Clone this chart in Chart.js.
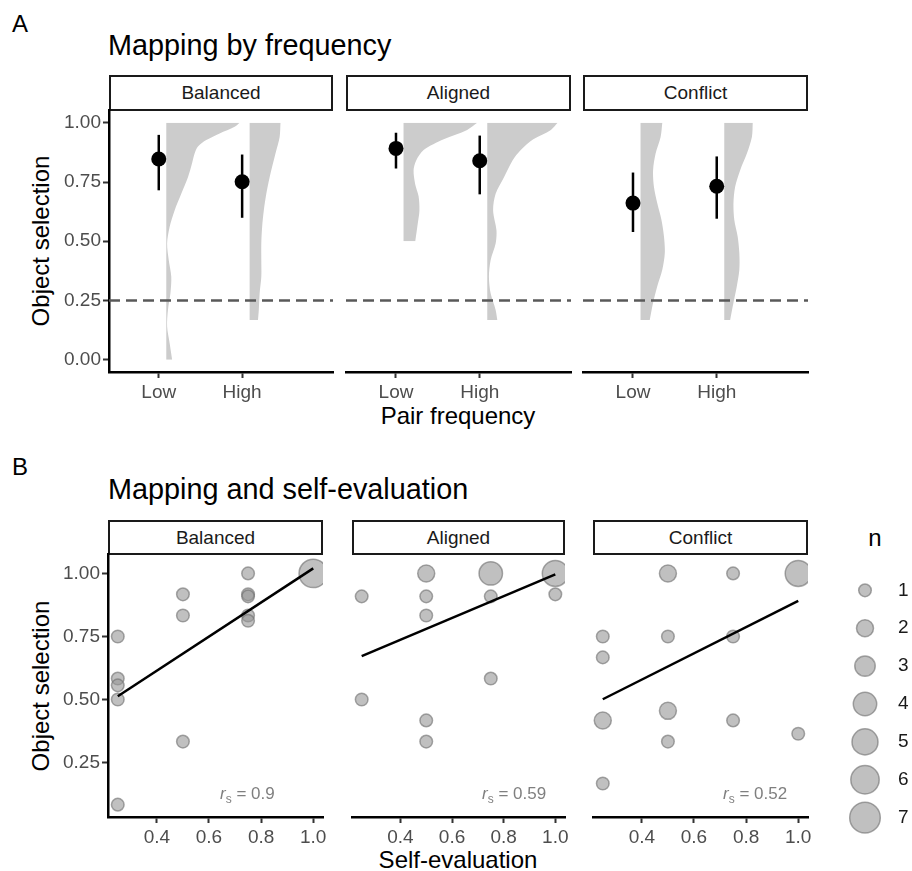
<!DOCTYPE html>
<html>
<head>
<meta charset="utf-8">
<script src="https://cdn.jsdelivr.net/npm/chart.js@4.4.1/dist/chart.umd.min.js"></script>
<style>
body{margin:0;background:#fff;width:912px;height:871px;position:relative;overflow:hidden;font-family:"Liberation Sans",Arial,Helvetica,sans-serif;}
canvas{position:absolute;}
.t{position:absolute;white-space:nowrap;color:#000;line-height:1;}
.strip{position:absolute;box-sizing:border-box;border:2px solid #1a1a1a;text-align:center;font-size:19px;color:#1a1a1a;background:#fff;}
.rs{font-size:17px;color:#7f7f7f;}
.rs sub{font-size:12px;vertical-align:-4px;line-height:0;}
</style>
</head>
<body>
<div class="t" style="left:12px;top:12px;font-size:24px;">A</div>
<div class="t" style="left:108px;top:31px;font-size:28.8px;">Mapping by frequency</div>
<div class="t" style="left:12px;top:455px;font-size:24px;">B</div>
<div class="t" style="left:108px;top:475px;font-size:28.8px;">Mapping and self-evaluation</div>

<div class="t" style="left:41px;top:241px;font-size:24px;transform:translate(-50%,-50%) rotate(-90deg);">Object selection</div>
<div class="t" style="left:41px;top:686px;font-size:24px;transform:translate(-50%,-50%) rotate(-90deg);">Object selection</div>
<div class="t" style="left:458px;top:404px;font-size:24px;transform:translateX(-50%);">Pair frequency</div>
<div class="t" style="left:458px;top:848px;font-size:24px;transform:translateX(-50%);">Self-evaluation</div>
<div class="t" style="left:875px;top:526px;font-size:24px;transform:translateX(-50%);">n</div>

<script>
// panel A: mapping by frequency
const conditions = ['Balanced', 'Aligned', 'Conflict'];
const freqLabels = ['Low', 'High'];
const chance = 0.25;

const balancedMean = [0.847, 0.751];
const balancedLo = [0.715, 0.599];
const balancedHi = [0.949, 0.866];
const alignedMean = [0.892, 0.840];
const alignedLo = [0.807, 0.698];
const alignedHi = [0.958, 0.946];
const conflictMean = [0.661, 0.732];
const conflictLo = [0.539, 0.595];
const conflictHi = [0.790, 0.858];

// half-violin densities (y level, width in axis units)
const balLowY = [1.0, 0.983, 0.955, 0.927, 0.9, 0.87, 0.83, 0.77, 0.70, 0.63, 0.56, 0.49, 0.42, 0.35, 0.28, 0.21, 0.14, 0.07, 0.0];
const balLowW = [0.88, 0.82, 0.64, 0.48, 0.38, 0.34, 0.31, 0.26, 0.18, 0.10, 0.04, 0.01, 0.03, 0.06, 0.05, 0.02, 0.01, 0.04, 0.07];
const balHighY = [1.0, 0.94, 0.87, 0.77, 0.70, 0.63, 0.56, 0.49, 0.42, 0.35, 0.28, 0.21, 0.167];
const balHighW = [0.37, 0.36, 0.31, 0.24, 0.20, 0.17, 0.15, 0.14, 0.14, 0.14, 0.12, 0.11, 0.10];
const aliLowY = [1.0, 0.97, 0.93, 0.885, 0.84, 0.80, 0.74, 0.69, 0.63, 0.575, 0.5];
const aliLowW = [0.88, 0.76, 0.48, 0.24, 0.15, 0.12, 0.14, 0.18, 0.19, 0.17, 0.14];
const aliHighY = [1.0, 0.97, 0.93, 0.885, 0.84, 0.77, 0.70, 0.63, 0.546, 0.49, 0.42, 0.35, 0.28, 0.21, 0.167];
const aliHighW = [0.84, 0.76, 0.55, 0.40, 0.30, 0.20, 0.10, 0.07, 0.11, 0.10, 0.04, 0.02, 0.04, 0.10, 0.12];
const conLowY = [1.0, 0.94, 0.87, 0.80, 0.73, 0.66, 0.59, 0.52, 0.45, 0.38, 0.31, 0.24, 0.167];
const conLowW = [0.26, 0.24, 0.18, 0.15, 0.16, 0.20, 0.25, 0.28, 0.29, 0.26, 0.20, 0.15, 0.11];
const conHighY = [1.0, 0.94, 0.87, 0.80, 0.73, 0.66, 0.59, 0.52, 0.45, 0.38, 0.31, 0.24, 0.167];
const conHighW = [0.34, 0.33, 0.27, 0.19, 0.13, 0.11, 0.12, 0.16, 0.18, 0.18, 0.15, 0.11, 0.07];

const yTicksA = [0, 0.25, 0.5, 0.75, 1.0];

// panel B: mapping and self-evaluation
const balX = [0.25, 0.25, 0.25, 0.25, 0.25, 0.5, 0.5, 0.5, 0.75, 0.75, 0.75, 0.75, 0.75, 1.0];
const balY = [0.75, 0.583, 0.556, 0.5, 0.083, 0.917, 0.833, 0.333, 1.0, 0.917, 0.909, 0.833, 0.812, 1.0];
const balN = [1, 1, 1, 1, 1, 1, 1, 1, 1, 1, 1, 1, 1, 6];
const aliX = [0.25, 0.25, 0.5, 0.5, 0.5, 0.5, 0.5, 0.75, 0.75, 0.75, 1.0, 1.0];
const aliY = [0.909, 0.5, 1.0, 0.909, 0.833, 0.417, 0.333, 1.0, 0.909, 0.583, 1.0, 0.917];
const aliN = [1, 1, 2, 1, 1, 1, 1, 4, 1, 1, 5, 1];
const conX = [0.25, 0.25, 0.25, 0.25, 0.5, 0.5, 0.5, 0.5, 0.75, 0.75, 0.75, 1.0, 1.0];
const conY = [0.75, 0.667, 0.417, 0.167, 1.0, 0.75, 0.455, 0.333, 1.0, 0.75, 0.417, 1.0, 0.364];
const conN = [1, 1, 2, 1, 2, 1, 2, 1, 1, 1, 1, 5, 1];

// fitted lines (intercept, slope) and spearman labels
const fitIntercept = [0.344, 0.564, 0.371];
const fitSlope = [0.676, 0.432, 0.520];
const rsValues = ['0.9', '0.59', '0.52'];

const xTicksB = [0.4, 0.6, 0.8, 1.0];
const yTicksB = [0.25, 0.5, 0.75, 1.0];
const nLevels = [1, 2, 3, 4, 5, 6, 7];

Chart.defaults.font.family = '"Liberation Sans", Arial, Helvetica, sans-serif';
Chart.defaults.font.size = 19;
Chart.defaults.color = '#4d4d4d';
Chart.defaults.animation = false;
Chart.defaults.plugins.legend.display = false;
Chart.defaults.plugins.tooltip.enabled = false;

const sizeFor = n => Math.sqrt(6.3 * 6.3 + (15.3 * 15.3 - 6.3 * 6.3) * (n - 1) / 6);
const bubbleFill = 'rgba(150,150,150,0.6)';
const bubbleLine = 'rgba(110,110,110,0.6)';

function addCanvas(left, top, w, h) {
  const c = document.createElement('canvas');
  c.width = w; c.height = h;
  c.style.left = left + 'px';
  c.style.top = top + 'px';
  document.body.appendChild(c);
  return c;
}

function addStrip(label, left, top, w, h) {
  const d = document.createElement('div');
  d.className = 'strip';
  d.style.left = left + 'px'; d.style.top = top + 'px';
  d.style.width = w + 'px'; d.style.height = h + 'px';
  d.style.lineHeight = (h - 4) + 'px';
  d.textContent = label;
  document.body.appendChild(d);
}

const tickGrid = {drawOnChartArea: false, drawTicks: true, tickLength: 6, tickColor: '#333', tickWidth: 2};
const axisBorder = {display: true, color: '#000', width: 2.5};

function xAxis(min, max, ticks, fmt) {
  return {
    type: 'linear', min: min, max: max,
    afterBuildTicks: s => { s.ticks = ticks.map(v => ({value: v})); },
    afterFit: s => { s.height = 40; },
    ticks: {callback: fmt, autoSkip: false, maxRotation: 0, padding: 3},
    grid: tickGrid, border: axisBorder
  };
}

function yAxis(min, max, ticks, show, width) {
  return {
    type: 'linear', min: min, max: max, display: show,
    afterBuildTicks: s => { s.ticks = ticks.map(v => ({value: v})); },
    afterFit: s => { s.width = show ? width : 0; },
    ticks: {callback: v => v.toFixed(2), autoSkip: false, padding: 2},
    grid: tickGrid, border: axisBorder
  };
}

function facet(canvas, pad, xs, ys, datasets) {
  new Chart(canvas, {
    type: 'scatter',
    data: {datasets: datasets},
    options: {
      responsive: false,
      layout: {padding: pad, autoPadding: false},
      scales: {x: xs, y: ys}
    }
  });
}

// ---------- panel A ----------
const means = [balancedMean, alignedMean, conflictMean];
const los = [balancedLo, alignedLo, conflictLo];
const his = [balancedHi, alignedHi, conflictHi];
const violins = [
  [[balLowY, balLowW], [balHighY, balHighW]],
  [[aliLowY, aliLowW], [aliHighY, aliHighW]],
  [[conLowY, conLowW], [conHighY, conHighW]]
];
const violinGap = 0.09;
const xMinA = 0.403, xMaxA = 3.09;

const facetA = [
  {left: 0, width: 353, pad: {left: 0, right: 20, top: 14, bottom: 4}, strip: [109, 224]},
  {left: 326, width: 265, pad: {left: 20, right: 20, top: 14, bottom: 4}, strip: [346, 225]},
  {left: 563, width: 265, pad: {left: 20, right: 20, top: 14, bottom: 4}, strip: [583, 225]}
];

conditions.forEach((cond, c) => {
  const g = facetA[c];
  addStrip(cond, g.strip[0], 75, g.strip[1], 36);
  const ds = [];
  ds.push({
    type: 'scatter',
    data: means[c].map((m, i) => ({x: i + 1, y: m})),
    pointRadius: 7.5, backgroundColor: '#000', borderWidth: 0
  });
  means[c].forEach((m, i) => {
    ds.push({
      type: 'line',
      data: [{x: i + 1, y: los[c][i]}, {x: i + 1, y: his[c][i]}],
      borderColor: '#000', borderWidth: 2.5, pointRadius: 0
    });
  });
  ds.push({
    type: 'line',
    data: [{x: xMinA, y: chance}, {x: xMaxA, y: chance}],
    borderColor: '#595959', borderWidth: 2.5, borderDash: [11, 6], pointRadius: 0
  });
  violins[c].forEach((v, i) => {
    const base = i + 1 + violinGap;
    ds.push({
      type: 'line', indexAxis: 'y',
      data: v[0].map((y, k) => ({x: base + v[1][k], y: y})),
      fill: {value: base},
      backgroundColor: '#cccccc', borderColor: 'rgba(0,0,0,0)', borderWidth: 0,
      pointRadius: 0, tension: 0.3
    });
  });
  // chart area 110 -> 372
  facet(addCanvas(g.left, 96, g.width, 320), g.pad,
    xAxis(xMinA, xMaxA, [1, 2], v => freqLabels[Math.round(v) - 1]),
    yAxis(-0.052, 1.054, yTicksA, c === 0, 109), ds);
});

// ---------- panel B ----------
const bx = [balX, aliX, conX];
const by = [balY, aliY, conY];
const bn = [balN, aliN, conN];

const facetB = [
  {left: 0, width: 343, pad: {left: 0, right: 20, top: 14, bottom: 4}, strip: [108, 215], rs: 220},
  {left: 332, width: 253, pad: {left: 20, right: 20, top: 14, bottom: 4}, strip: [352, 213], rs: 482},
  {left: 573, width: 255, pad: {left: 20, right: 20, top: 14, bottom: 4}, strip: [593, 215], rs: 723}
];

conditions.forEach((cond, c) => {
  const g = facetB[c];
  addStrip(cond, g.strip[0], 520, g.strip[1], 35);
  const ds = [
    {
      type: 'line',
      data: [0.25, 1.0].map(x => ({x: x, y: fitIntercept[c] + fitSlope[c] * x})),
      borderColor: '#000', borderWidth: 2.5, pointRadius: 0
    },
    {
      type: 'scatter',
      data: bx[c].map((x, i) => ({x: x, y: by[c][i]})),
      pointRadius: bn[c].map(sizeFor),
      backgroundColor: bubbleFill, borderColor: bubbleLine, borderWidth: 1.5,
      clip: 0
    }
  ];
  // chart area 554 -> 817
  facet(addCanvas(g.left, 540, g.width, 321), g.pad,
    xAxis(0.2125, 1.0375, xTicksB, v => v.toFixed(1)),
    yAxis(0.034, 1.077, yTicksB, c === 0, 108), ds);

  const lab = document.createElement('div');
  lab.className = 't rs';
  lab.style.left = g.rs + 'px';
  lab.style.top = '785px';
  lab.innerHTML = '<i>r</i><sub>s</sub> = ' + rsValues[c];
  document.body.appendChild(lab);
});

// ---------- size legend ----------
new Chart(addCanvas(840, 552, 72, 304), {
  type: 'scatter',
  data: {datasets: [{
    data: nLevels.map(n => ({x: 0.5, y: n})),
    pointRadius: nLevels.map(sizeFor),
    backgroundColor: bubbleFill, borderColor: bubbleLine, borderWidth: 1.5,
    clip: false
  }]},
  options: {
    responsive: false,
    layout: {padding: {left: 0, right: 0, top: 6, bottom: 4}, autoPadding: false},
    scales: {
      x: {type: 'linear', min: 0, max: 1, display: false},
      y: {
        type: 'linear', min: 0.5, max: 7.5, reverse: true, position: 'right',
        afterBuildTicks: s => { s.ticks = nLevels.map(v => ({value: v})); },
        afterFit: s => { s.width = 22; },
        ticks: {color: '#1a1a1a', padding: 8, autoSkip: false},
        grid: {display: false, drawTicks: false},
        border: {display: false}
      }
    }
  }
});
</script>
</body>
</html>
